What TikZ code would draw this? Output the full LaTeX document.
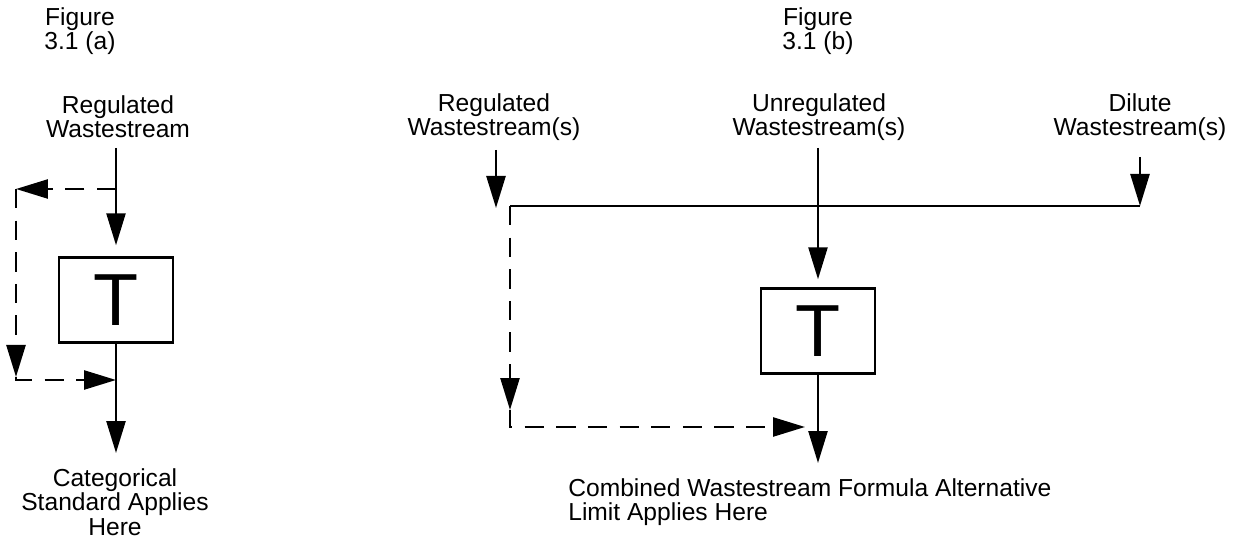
\documentclass[tikz,border=0pt]{standalone}
\usepackage{fontspec}
\setmainfont{Liberation Sans}
\usetikzlibrary{arrows.meta,positioning}

\begin{document}
\begin{tikzpicture}[
  x=0.02cm, y=-0.02cm,
  font=\fontsize{14pt}{13.8pt}\selectfont,
  txt/.style={align=center, inner sep=0pt},
  box/.style={draw, line width=1.4pt, minimum width=2.28cm, minimum height=1.7cm, inner sep=0pt, font=\fontsize{42pt}{44pt}\selectfont},
  arrow/.style={-{Triangle[length=6.4mm, width=3.8mm]}, line width=1.4pt},
  dasharrow/.style={arrow, dash pattern=on 11pt off 7pt}
]
\useasboundingbox (0,0) rectangle (1242,546);

% Figure 3.1 (a)
\node[txt] (figa) at (80,31) {Figure\\3.1 (a)};
\node[txt] (rega) at (118,117) {Regulated\\Wastestream};
\node[box] (treata) at (116,300) {T};
\node[txt] (stda) at (115,502) {Categorical\\Standard Applies\\Here};

\coordinate (srca) at (116,148);
\coordinate (tapa) at (116,189);
\coordinate (c1a) at (16,189);
\coordinate (c2a) at (16,377);
\coordinate (joina) at (116,380);
\coordinate (outa) at (116,453);

\draw[arrow, shorten >=2.2mm] (srca) -- (treata);
\draw[dasharrow] (tapa) -- (c1a);
\draw[dasharrow] (c1a) -- (c2a);
\draw[dasharrow] (c2a) |- (joina);
\draw[arrow] (treata) -- (outa);

% Figure 3.1 (b)
\node[txt] (figb) at (818,31) {Figure\\3.1 (b)};
\node[txt] (regb) at (494,117) {Regulated\\Wastestream(s)};
\node[txt] (unregb) at (819,117) {Unregulated\\Wastestream(s)};
\node[txt] (diluteb) at (1140,117) {Dilute\\Wastestream(s)};
\node[box] (treatb) at (818,331) {T};
\node[txt, anchor=north west, align=left] (cwf) at (568,478) {Combined Wastestream Formula Alternative\\Limit Applies Here};

\coordinate (srcb1) at (496,150);
\coordinate (tipb1) at (496,208);
\coordinate (srcb2) at (818,148);
\coordinate (srcb3) at (1140,157);
\coordinate (splitb) at (510,206);
\coordinate (endb) at (1140,206);
\coordinate (c1b) at (510,410);
\coordinate (joinb) at (805,427);
\coordinate (outb) at (818,463);

\draw[arrow] (srcb1) -- (tipb1);
\draw[line width=1.4pt] (splitb) -- (endb);
\draw[arrow] (srcb3) -- (endb);
\draw[arrow, shorten >=1.6mm] (srcb2) -- (treatb);
\draw[dasharrow] (splitb) -- (c1b);
\draw[dasharrow] (c1b) |- (joinb);
\draw[arrow] (treatb) -- (outb);
\end{tikzpicture}
\end{document}
